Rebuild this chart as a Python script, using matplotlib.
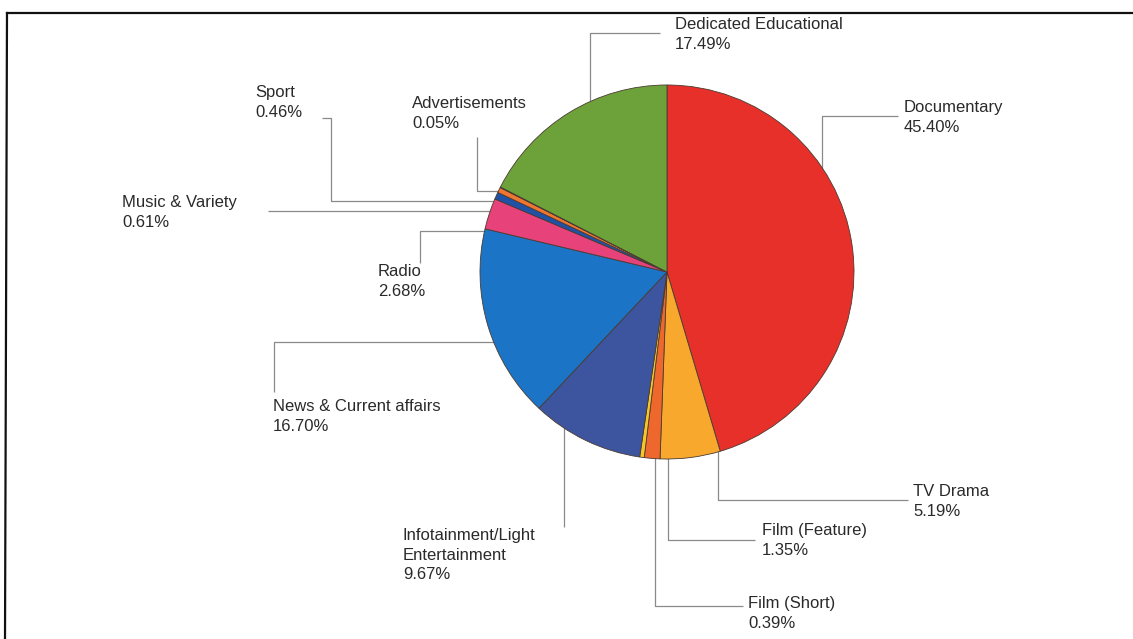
import matplotlib
matplotlib.use("Agg")
import matplotlib.pyplot as plt
from matplotlib.lines import Line2D

# ---- data ----
categories = ["Documentary", "TV Drama", "Film (Feature)", "Film (Short)",
              "Infotainment/Light\nEntertainment", "News & Current affairs", "Radio",
              "Music & Variety", "Sport", "Advertisements", "Dedicated Educational"]
shares = [45.40, 5.19, 1.35, 0.39, 9.67, 16.70, 2.68, 0.61, 0.46, 0.05, 17.49]
share_labels = ["45.40%", "5.19%", "1.35%", "0.39%", "9.67%", "16.70%", "2.68%",
                "0.61%", "0.46%", "0.05%", "17.49%"]
colors = ["#e8302a", "#f8a82c", "#ee672c", "#f6c52a", "#3d559f", "#1b74c6",
          "#e8427a", "#1f52a6", "#ef7631", "#1e1e1e", "#6da23a"]

W, H = 1133, 639
def Y(y):
    return H - y

fig = plt.figure(figsize=(W / 100, H / 100), dpi=100)
ax = fig.add_axes([0, 0, 1, 1])
plt.rcParams['font.family'] = ['Liberation Sans', 'DejaVu Sans']

cx, cy, r = 667, 272, 187
wedges, _ = ax.pie(shares, colors=colors, startangle=90, counterclock=False,
                   center=(cx, Y(cy)), radius=r,
                   wedgeprops=dict(edgecolor="#4a3a30", linewidth=0.6))
for w in wedges:
    w.set_zorder(3)
ax.set_xlim(0, W)
ax.set_ylim(0, H)
ax.set_aspect('equal')
ax.axis('off')

# label layout: (text x, cap-top y, leader path in pixel coords)
layout = {
    "Documentary": (904, 103, [(898, 116), (822, 116), (822, 170)]),
    "TV Drama": (913, 487, [(908, 500), (718, 500), (718, 445)]),
    "Film (Feature)": (762, 526, [(755, 540), (668, 540), (668, 450)]),
    "Film (Short)": (748, 599, [(743, 606), (655, 606), (655, 450)]),
    "Infotainment/Light\nEntertainment": (403, 531, [(564, 527), (564, 420)]),
    "News & Current affairs": (273, 402, [(274, 392), (274, 342), (500, 342)]),
    "Radio": (378, 267, [(420, 263), (420, 231), (495, 231)]),
    "Music & Variety": (122, 198, [(268, 211), (500, 211)]),
    "Sport": (255, 88, [(322, 118), (331, 118), (331, 201), (500, 201)]),
    "Advertisements": (412, 99, [(477, 137), (477, 191), (500, 191)]),
    "Dedicated Educational": (675, 20, [(660, 33), (590, 33), (590, 110)]),
}

for cat, lab in zip(categories, share_labels):
    tx, ty, path = layout[cat]
    ax.text(tx, Y(ty - 3), f"{cat}\n{lab}", ha='left', va='top', fontsize=12,
            color="#2a2a2a", linespacing=1.38, zorder=5)
    xs = [p[0] for p in path]
    ys = [Y(p[1]) for p in path]
    ax.plot(xs, ys, color="#8a8a8a", lw=0.9, zorder=1, solid_capstyle='butt')

# frame lines (top and left)
fig.add_artist(Line2D([7 / W, 1], [Y(13) / H, Y(13) / H], transform=fig.transFigure,
                      color="#111111", lw=1.6))
fig.add_artist(Line2D([7 / W, 5 / W], [Y(13) / H, 0], transform=fig.transFigure,
                      color="#111111", lw=1.6))

fig.savefig("out.png", dpi=100, facecolor="white")
